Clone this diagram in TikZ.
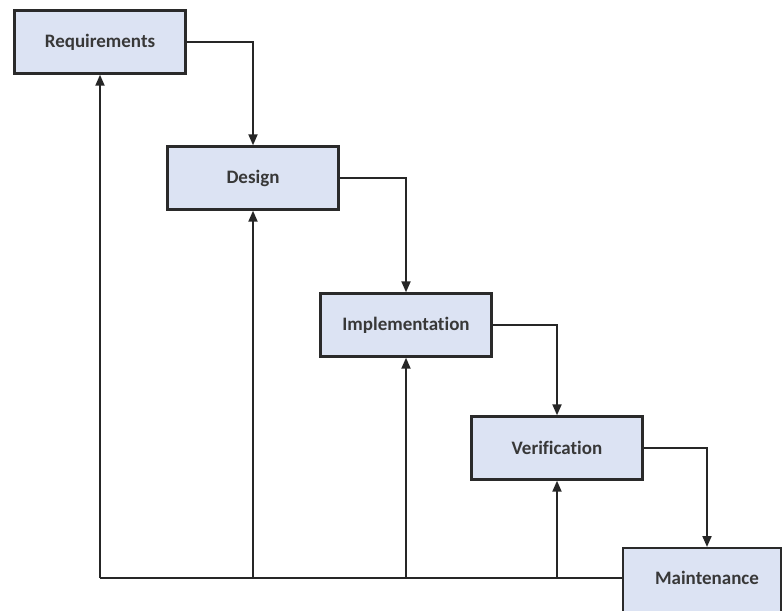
\documentclass[tikz,border=0pt]{standalone}
\usepackage{fontspec}
\setmainfont{Carlito}[Ligatures={NoCommon}]
\usetikzlibrary{arrows.meta}
\definecolor{boxfill}{HTML}{DCE3F3}
\definecolor{boxline}{HTML}{2A2A2A}
\tikzset{
  lbl/.style={font=\fontsize{19}{22}\selectfont\bfseries, text=black!78},
  phase/.style={lbl, draw=boxline, line width=2.4pt, fill=boxfill, minimum width=171pt, minimum height=63pt, inner sep=0pt},
  flow/.style={draw=black!85, line width=2pt, -{Triangle[length=11pt,width=9pt]}},
  plain/.style={draw=black!85, line width=2pt}
}
\begin{document}
\begin{tikzpicture}[x=1pt,y=-1pt]
\useasboundingbox (0,0) rectangle (783,610);
\clip (0,0) rectangle (783,610);
\node[phase] (req) at (100,42) {Requirements};
\node[phase] (des) at (253,178) {Design};
\node[phase] (imp) at (406,325) {Implementation};
\node[phase] (ver) at (557,448) {Verification};
\node[phase, minimum width=158pt, minimum height=66pt, anchor=north west] (mai) at (622,547) {};
\node[lbl] (mait) at (707,578) {Maintenance};
\coordinate (base) at (100,578);
\coordinate (bdes) at (253,578);
\coordinate (bimp) at (406,578);
\coordinate (bver) at (557,578);
\draw[flow] (req.east) -| (des.north);
\draw[flow] (des.east) -| (imp.north);
\draw[flow] (imp.east) -| (ver.north);
\draw[flow] (ver.east) -| (mai.north -| mait);
\draw[plain] (mai.west |- mait) -- (base);
\draw[flow] (base) -- (req.south);
\draw[flow] (bdes) -- (des.south);
\draw[flow] (bimp) -- (imp.south);
\draw[flow] (bver) -- (ver.south);
\end{tikzpicture}
\end{document}
